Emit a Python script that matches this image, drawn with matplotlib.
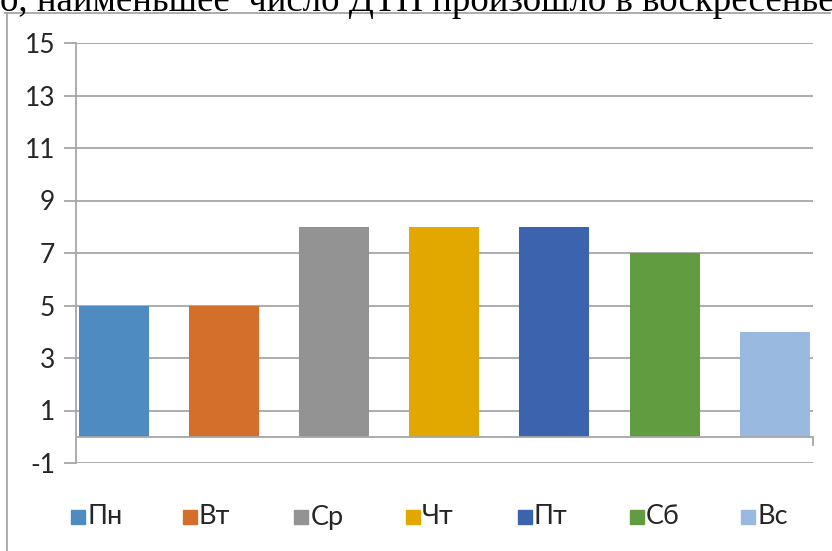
import matplotlib.pyplot as plt
from matplotlib.patches import Rectangle
from matplotlib.lines import Line2D

days = ['Пн', 'Вт', 'Ср', 'Чт', 'Пт', 'Сб', 'Вс']
accidents = [5, 5, 8, 8, 8, 7, 4]
colors = ['#4E8BC0', '#D36F2B', '#939393', '#E2A800', '#3C64AE', '#629C40', '#99B9E0']
yticks = list(range(-1, 16, 2))
caption = 'о, наименьшее  число ДТП произошло в воскресенье'

W, H = 832, 551
fig = plt.figure(figsize=(W / 100, H / 100), dpi=100)
grid_c = '#A6A6A6'

# caption line cut off at the top of the screenshot
fig.text(0, 1 - 11 / H, caption, fontsize=26.6, family='Liberation Serif',
         va='baseline', ha='left')

# chart frame
fig.add_artist(Line2D([5 / W, 830 / W], [1 - 13 / H] * 2, color=grid_c, lw=1.3))
fig.add_artist(Line2D([7 / W] * 2, [1 - 13 / H, 0], color=grid_c, lw=1.3))

ax = fig.add_axes([76 / W, 1 - 463 / H, (813 - 76) / W, 420 / H])
x = range(len(days))
ax.bar(x, accidents, width=0.636, color=colors, zorder=3)
ax.set_xlim(-0.345, 6.348)
ax.set_ylim(-1, 15)
ax.set_yticks(yticks)
ax.set_yticklabels([str(t) for t in yticks], family='Lato', fontsize=19,
                   color='#262626')
ax.tick_params(axis='y', length=9, color=grid_c, width=1.3, pad=6)
ax.set_xticks([])
ax.grid(axis='y', color=grid_c, lw=1.3, zorder=0)
for s in ['top', 'right', 'bottom']:
    ax.spines[s].set_visible(False)
ax.spines['left'].set_color(grid_c)
ax.spines['left'].set_linewidth(1.3)
ax.spines['left'].set_zorder(4)

# category axis at zero with the end tick
ax.axhline(0, color=grid_c, lw=1.3, zorder=4)
ax.plot([6.348, 6.348], [0, -0.3], color=grid_c, lw=1.3, clip_on=False, zorder=4)

# legend row
for i, (d, c) in enumerate(zip(days, colors)):
    x0 = 71 + i * 111.7
    fig.add_artist(Rectangle((x0 / W, 1 - 524 / H), 14 / W, 14 / H, color=c,
                             transform=fig.transFigure))
    fig.text((x0 + 16) / W, 1 - 517 / H, d, family='Lato', fontsize=19.5,
             va='center', ha='left', color='#262626')

fig.savefig('out.png', dpi=100)
